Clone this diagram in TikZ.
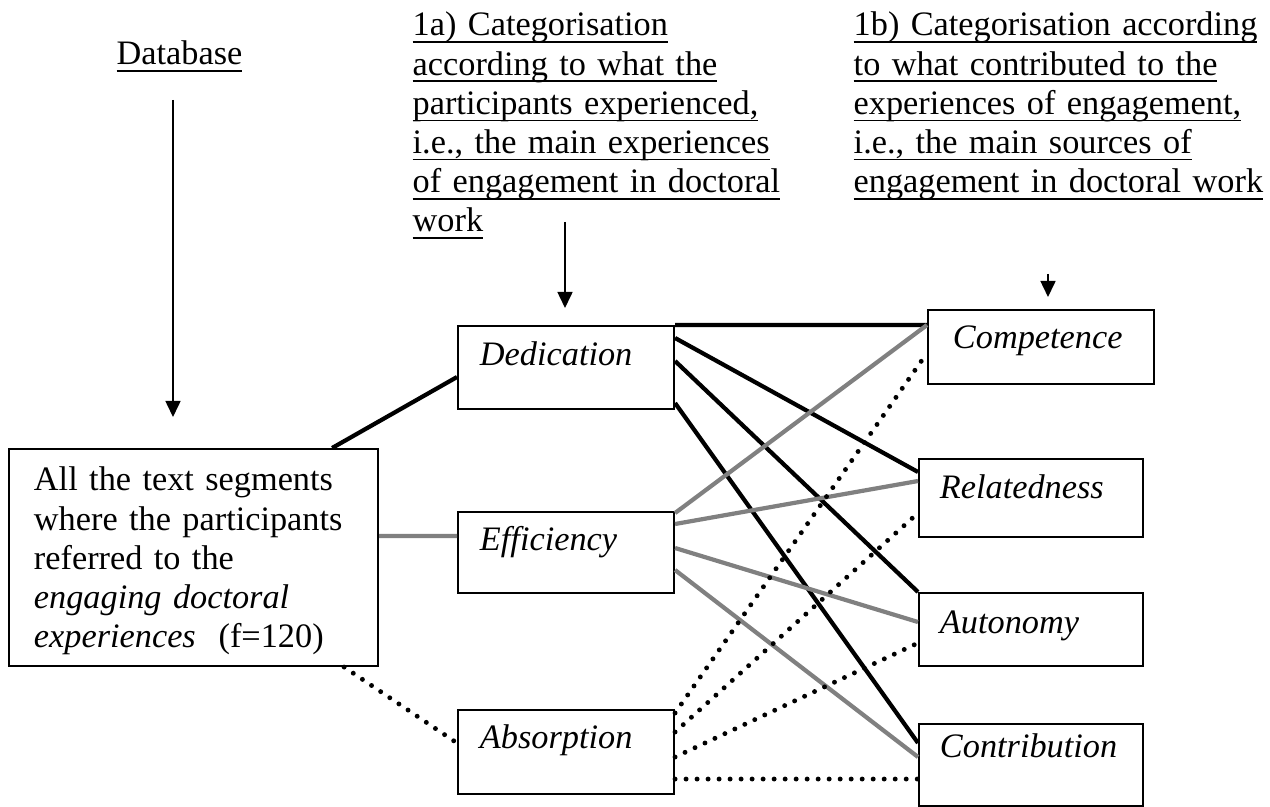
\documentclass[tikz,border=0pt]{standalone}
\usepackage{fontspec}
\setmainfont{Liberation Serif}
\usetikzlibrary{arrows.meta}
\definecolor{linegray}{RGB}{128,128,128}
\newsavebox\ulnbox
\newcommand{\uln}[1]{\leavevmode\sbox\ulnbox{#1}\rlap{\rule[-2.1pt]{\wd\ulnbox}{0.55pt}}\usebox\ulnbox}

\begin{document}
\fontsize{9.75}{11.1}\selectfont
\begin{tikzpicture}[x=0.01cm, y=-0.01cm,
    catbox/.style={draw, line width=0.55pt, anchor=north west, inner ysep=0pt, align=left},
    headtext/.style={anchor=base west, inner sep=0pt, align=left},
    blackline/.style={line width=1.2pt},
    grayline/.style={line width=1.2pt, draw=linegray},
    dotline/.style={line width=1.4pt, line cap=round, dash pattern=on 0pt off 0.11cm},
    arr/.style={-{Triangle[width=0.15cm,length=0.16cm]}, line width=0.45pt}]
\useasboundingbox (0,0) rectangle (1270,807);

% headings
\node[headtext] (db) at (116,65) {\uln{Database}};
\node[headtext, text width=4.3cm] (head1a) at (412,36) {\uln{1a) Categorisation}\\
    \uln{according to what the}\\ \uln{participants experienced,}\\
    \uln{i.e., the main experiences}\\ \uln{of engagement in doctoral}\\ \uln{work}};
\node[headtext, text width=4.2cm] (head1b) at (853,36) {\uln{1b) Categorisation according}\\
    \uln{to what contributed to the}\\ \uln{experiences of engagement,}\\
    \uln{i.e., the main sources of}\\ \uln{engagement in doctoral work}};

% boxes
\node[catbox, inner xsep=0.25cm, text width=3.19cm, text height=0.42cm, text depth=1.75cm] (seg) at (8,448)
    {All the text segments\\ where the participants\\ referred to the\\ \textit{engaging doctoral}\\ \textit{experiences}\ \ (f=120)};
\node[catbox, font=\itshape, inner xsep=0.22cm, text width=1.72cm, text height=0.40cm, text depth=0.43cm] (ded) at (457,325) {Dedication};
\node[catbox, font=\itshape, inner xsep=0.22cm, text width=1.72cm, text height=0.39cm, text depth=0.42cm] (eff) at (457,511) {Efficiency};
\node[catbox, font=\itshape, inner xsep=0.22cm, text width=1.72cm, text height=0.39cm, text depth=0.45cm] (abs) at (457,709) {Absorption};
\node[catbox, font=\itshape, inner xsep=0.25cm, text width=1.76cm, text height=0.39cm, text depth=0.35cm] (comp) at (927,309) {Competence};
\node[catbox, font=\itshape, inner xsep=0.21cm, text width=1.82cm, text height=0.40cm, text depth=0.38cm] (rel) at (918,458) {Relatedness};
\node[catbox, font=\itshape, inner xsep=0.21cm, text width=1.82cm, text height=0.41cm, text depth=0.32cm] (aut) at (918,592) {Autonomy};
\node[catbox, font=\itshape, inner xsep=0.21cm, text width=1.82cm, text height=0.34cm, text depth=0.48cm] (con) at (918,723) {Contribution};

% arrows
\coordinate (dbfrom) at (173,100);
\coordinate (dbto) at (173,417);
\coordinate (afrom) at (565,222);
\coordinate (ato) at (565,308);
\coordinate (bfrom) at (1048,274);
\coordinate (bto) at (1048,297);
\draw[arr] (dbfrom) -- (dbto);
\draw[arr] (afrom) -- (ato);
\draw[arr] (bfrom) -- (bto);

% database to experiences
\draw[blackline] ([xshift=-0.47cm]seg.north east) -- ([yshift=-0.52cm]ded.north west);
\draw[grayline] ([yshift=-0.88cm]seg.north east) -- ([yshift=-0.25cm]eff.north west);
\draw[dotline] ([xshift=-0.35cm]seg.south east) -- ([yshift=-0.34cm]abs.north west);

% dedication
\draw[blackline] (ded.north east) -- ([yshift=-0.16cm]comp.north west);
\draw[blackline] ([yshift=-0.13cm]ded.north east) -- ([yshift=-0.14cm]rel.north west);
\draw[blackline] ([yshift=-0.36cm]ded.north east) -- (aut.north west);
\draw[blackline] ([yshift=-0.78cm]ded.north east) -- ([yshift=-0.20cm]con.north west);

% efficiency
\draw[grayline] ([yshift=-0.02cm]eff.north east) -- ([yshift=-0.16cm]comp.north west);
\draw[grayline] ([yshift=-0.13cm]eff.north east) -- ([yshift=-0.23cm]rel.north west);
\draw[grayline] ([yshift=-0.37cm]eff.north east) -- ([yshift=-0.30cm]aut.north west);
\draw[grayline] ([yshift=-0.59cm]eff.north east) -- ([yshift=-0.34cm]con.north west);

% absorption
\draw[dotline] ([yshift=-0.04cm]abs.north east) -- ([yshift=-0.44cm]comp.north west);
\draw[dotline] ([yshift=-0.23cm]abs.north east) -- ([yshift=-0.55cm]rel.north west);
\draw[dotline] ([yshift=-0.48cm]abs.north east) -- ([yshift=-0.51cm]aut.north west);
\draw[dotline] ([yshift=-0.70cm]abs.north east) -- ([yshift=-0.56cm]con.north west);
\end{tikzpicture}
\end{document}
